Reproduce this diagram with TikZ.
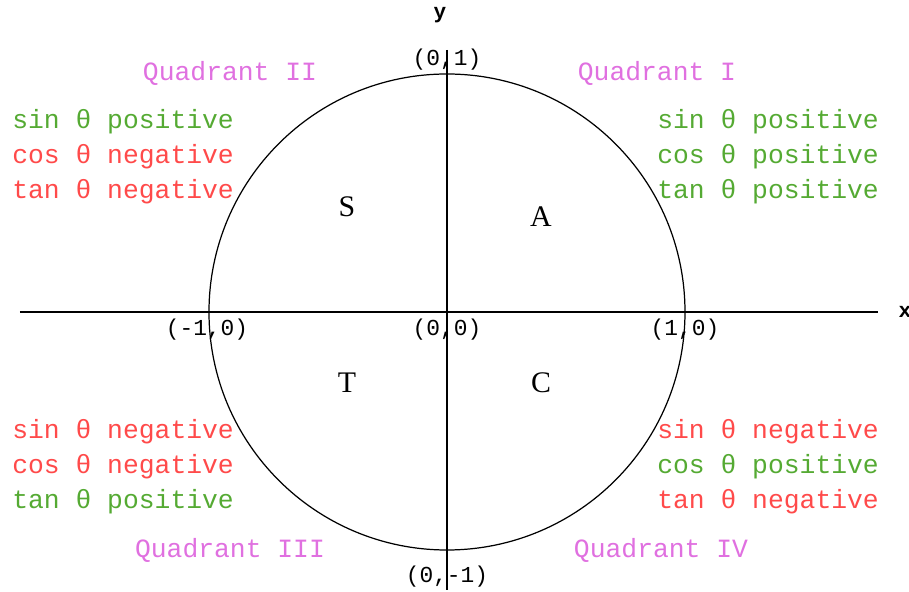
\documentclass[tikz,border=0pt]{standalone}
\usepackage{fontspec}
\usepackage{tikz}
\usetikzlibrary{positioning}
\usepackage{xcolor}
\setmainfont{Liberation Serif}
\newfontfamily\pixfont{Liberation Mono}
\definecolor{plus}{HTML}{55AA33}
\definecolor{minus}{HTML}{FF4A4A}
\definecolor{quad}{HTML}{E070E0}

\begin{document}
\begin{tikzpicture}[
  trig/.style={inner sep=0pt,anchor=west,font=\pixfont\fontsize{15}{16}\selectfont,text=#1},
  qname/.style={inner sep=0pt,font=\pixfont\fontsize{15}{16}\selectfont,text=quad},
  pt/.style={inner sep=0pt,font=\pixfont\fontsize{13}{14}\selectfont},
  letter/.style={inner sep=0pt,font=\fontsize{17}{19}\selectfont},
  axis/.style={line width=1.1pt},
]
  \useasboundingbox (-8.94,-5.6) rectangle (9.24,6.24);

  % unit circle and axes
  \node[circle,draw,line width=0.7pt,minimum size=9.52cm,inner sep=0pt] (uc) at (0,0) {};
  \coordinate (xl) at (-8.54,0);
  \coordinate (xr) at (8.62,0);
  \coordinate (yt) at (0,5.24);
  \coordinate (yb) at (0,-5.56);
  \draw[axis] (xl) -- (xr);
  \draw[axis] (yt) -- (yb);
  \node[pt,font=\pixfont\bfseries\fontsize{12}{13}\selectfont] (ylab) at (-0.14,5.94) {y};
  \node[pt,font=\pixfont\bfseries\fontsize{12}{13}\selectfont] (xlab) at (9.16,0) {x};

  % points on the circle
  \node[pt] (p01) at (0,5.04) {(0,1)};
  \node[pt] (pm10) at (-4.8,-0.36) {(-1,0)};
  \node[pt] (p00) at (0,-0.36) {(0,0)};
  \node[pt] (p10) at (4.76,-0.36) {(1,0)};
  \node[pt] (p0m1) at (0,-5.3) {(0,-1)};

  % ASTC letters
  \node[letter] (S) at (-2.0,2.1) {S};
  \node[letter] (A) at (1.88,1.9) {A};
  \node[letter] (T) at (-2.0,-1.42) {T};
  \node[letter] (C) at (1.88,-1.42) {C};

  % quadrant names
  \node[qname] (q2) at (-4.34,4.78) {Quadrant II};
  \node[qname] (q1) at (4.2,4.78) {Quadrant I};
  \node[qname] (q3) at (-4.34,-4.76) {Quadrant III};
  \node[qname] (q4) at (4.28,-4.76) {Quadrant IV};

  % Quadrant II
  \node[trig=plus] (s2) at (-8.7,3.8) {sin θ positive};
  \node[trig=minus] (c2) at (-8.7,3.1) {cos θ negative};
  \node[trig=minus] (t2) at (-8.7,2.4) {tan θ negative};
  % Quadrant I
  \node[trig=plus] (s1) at (4.2,3.8) {sin θ positive};
  \node[trig=plus] (c1) at (4.2,3.1) {cos θ positive};
  \node[trig=plus] (t1) at (4.2,2.4) {tan θ positive};
  % Quadrant III
  \node[trig=minus] (s3) at (-8.7,-2.4) {sin θ negative};
  \node[trig=minus] (c3) at (-8.7,-3.1) {cos θ negative};
  \node[trig=plus] (t3) at (-8.7,-3.8) {tan θ positive};
  % Quadrant IV
  \node[trig=minus] (s4) at (4.2,-2.4) {sin θ negative};
  \node[trig=plus] (c4) at (4.2,-3.1) {cos θ positive};
  \node[trig=minus] (t4) at (4.2,-3.8) {tan θ negative};
\end{tikzpicture}
\end{document}
